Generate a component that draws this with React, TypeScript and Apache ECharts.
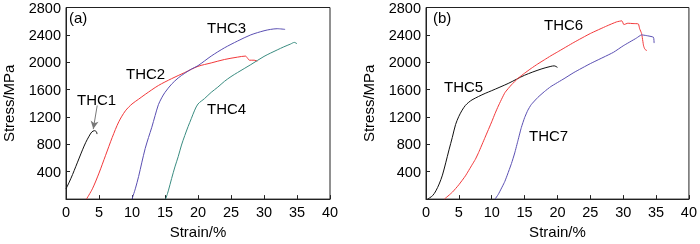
import React, { useEffect, useRef } from "react";
import * as echarts from "echarts";

// Panel (a)
const THC1 = [[0,150],[0.5,250],[1,360],[1.5,480],[2,600],[2.5,720],[3,830],[3.5,920],[3.9,980],[4.3,1000],[4.6,985],[4.7,950]];
const THC2 = [[3.1,0],[4,150],[5,380],[6,640],[7,900],[8,1130],[9,1290],[10,1390],[11,1460],[12,1530],[14,1660],[16,1760],[18,1850],[20,1940],[22,1990],[24,2040],[26,2075],[27.2,2090],[27.5,2060],[27.8,2030],[28.5,2030],[29,2015]];
const THC3 = [[10,0],[10.5,150],[11,330],[11.5,540],[12,740],[12.5,900],[13,1050],[13.5,1220],[14,1380],[14.5,1480],[15,1560],[16,1680],[17,1770],[18,1840],[19,1900],[20,1950],[22,2090],[24,2210],[26,2310],[28,2400],[30,2460],[31,2480],[32,2490],[33.2,2480]];
const THC4 = [[15.1,0],[15.5,120],[16,300],[16.5,470],[17,620],[17.5,790],[18,930],[18.5,1060],[19,1180],[19.5,1300],[20,1390],[21,1470],[22,1560],[23,1636],[24,1720],[25,1790],[26,1850],[28,1965],[30,2085],[32,2180],[33,2225],[34,2265],[34.6,2290],[35,2270]];
// Panel (b)
const THC5 = [[0.25,0],[1,50],[1.5,120],[2,220],[2.5,350],[3,530],[3.5,720],[4,900],[4.5,1090],[5,1210],[5.5,1300],[6,1370],[6.5,1415],[7,1450],[8,1500],[9,1545],[10,1585],[12.5,1690],[15,1810],[17.5,1900],[19,1940],[19.5,1947],[20,1925]];
const THC6 = [[2.8,0],[4,100],[5,210],[6,340],[7,500],[7.5,580],[8,680],[9,905],[10,1130],[10.5,1250],[11,1360],[12,1555],[13,1670],[14,1765],[15,1840],[16,1910],[17,1975],[18,2035],[19,2095],[20,2150],[22.5,2290],[25,2420],[27.5,2530],[29,2590],[29.8,2605],[30.1,2550],[30.7,2570],[31.5,2565],[32.3,2560],[32.5,2490],[32.8,2420],[33.1,2240],[33.3,2190],[33.6,2170]];
const THC7 = [[10.5,0],[11,70],[12,260],[13,520],[13.5,675],[14,860],[14.5,1045],[15,1190],[15.5,1300],[16,1380],[17,1485],[18,1570],[19,1645],[21,1760],[22.5,1850],[25,1980],[28.5,2144],[30,2240],[32,2352],[32.8,2400],[33.5,2390],[34.6,2365],[34.7,2280]];

const ARROW = [[4.73,1368],[4.13,1023]];
const X_MIN = 0, X_MAX = 40, X_STEP = 5;
const Y_MIN = 0, Y_MAX = 2800, Y_STEP = 400;

const FONT = "Liberation Sans, Arial, sans-serif";
const BLACK = "#111";
const RED = "#f2383a";
const BLUE = "#5a4fb2";
const TEAL = "#3a8c80";

export default function App() {
  const ref = useRef<HTMLDivElement>(null);
  useEffect(() => {
    const chart = echarts.init(ref.current!, null, { renderer: "svg" });
    const mkX = (gi: number) => ({
      type: "value", gridIndex: gi, min: X_MIN, max: X_MAX, interval: X_STEP,
      name: "Strain/%", nameLocation: "middle", nameGap: 21,
      nameTextStyle: { fontSize: 15, color: "#000", fontFamily: FONT },
      axisLine: { show: true, lineStyle: { color: "#222", width: 1 } },
      axisTick: { show: true, inside: true, length: 4, lineStyle: { color: "#222" } },
      axisLabel: { fontSize: 14.5, color: "#000", fontFamily: FONT, margin: 5 },
      splitLine: { show: false },
    });
    const mkY = (gi: number) => ({
      type: "value", gridIndex: gi, min: Y_MIN, max: Y_MAX, interval: Y_STEP,
      name: "Stress/MPa", nameLocation: "middle", nameGap: 50, nameRotate: 90,
      nameTextStyle: { fontSize: 15, color: "#000", fontFamily: FONT },
      axisLine: { show: true, lineStyle: { color: "#222", width: 1 } },
      axisTick: { show: true, inside: true, length: 4, lineStyle: { color: "#222" } },
      axisLabel: { fontSize: 14.5, color: "#000", fontFamily: FONT, margin: 5,
        formatter: (v: number) => (v === 0 ? "" : String(v)) },
      splitLine: { show: false },
    });
    const line = (name: string, data: number[][], color: string, gi: number, extra: any = {}) => ({
      type: "line", name, data, xAxisIndex: gi, yAxisIndex: gi,
      showSymbol: false, symbol: "none", smooth: 0.3,
      lineStyle: { color, width: 1 }, itemStyle: { color }, silent: true, ...extra,
    });
    const txt = (t: string, left: number, top: number) => ({
      type: "text", left, top,
      style: { text: t, fontSize: 15, fontFamily: FONT, fill: "#000" },
    });
    chart.setOption({
      animation: false,
      grid: [
        { left: 62, top: 5, width: 268, height: 203, show: true, borderColor: "#222", borderWidth: 1, backgroundColor: "transparent" },
        { left: 426, top: 5, width: 267, height: 203, show: true, borderColor: "#222", borderWidth: 1, backgroundColor: "transparent" },
      ],
      xAxis: [mkX(0), mkX(1)],
      yAxis: [mkY(0), mkY(1)],
      series: [
        line("THC1", THC1, BLACK, 0, {
          markLine: {
            silent: true, symbol: ["none", "arrow"], symbolSize: [6, 8],
            lineStyle: { color: "#777", width: 1, type: "solid" },
            label: { show: false },
            data: [[{ coord: ARROW[0] }, { coord: ARROW[1] }]],
          },
        }),
        line("THC2", THC2, RED, 0),
        line("THC3", THC3, BLUE, 0),
        line("THC4", THC4, TEAL, 0),
        line("THC5", THC5, BLACK, 1),
        line("THC6", THC6, RED, 1, { smooth: 0.15 }),
        line("THC7", THC7, BLUE, 1, { smooth: 0.15 }),
      ],
      graphic: [
        txt("(a)", 69, 10),
        txt("THC1", 77, 92),
        txt("THC2", 126, 66),
        txt("THC3", 207, 20),
        txt("THC4", 207, 101),
        txt("(b)", 433, 10),
        txt("THC5", 444, 79),
        txt("THC6", 544, 17),
        txt("THC7", 529, 128),
      ],
    });
    return () => chart.dispose();
  }, []);
  return <div ref={ref} style={{ position: "fixed", left: 0, top: 0, width: 700, height: 244 }} />;
}
